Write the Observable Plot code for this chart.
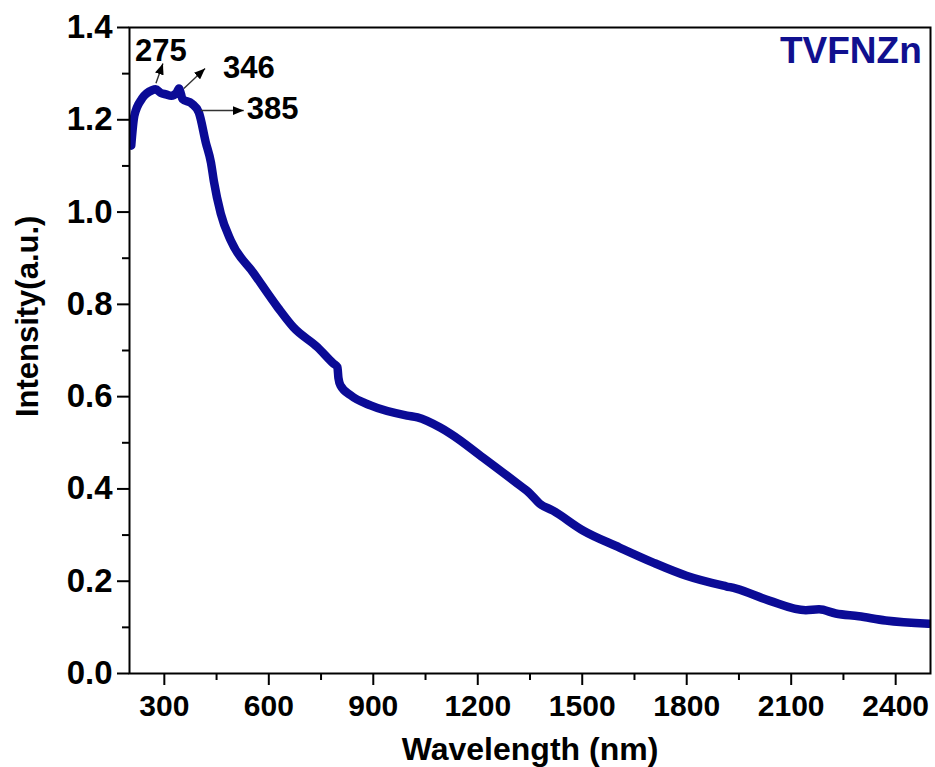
<!DOCTYPE html>
<html>
<head>
<meta charset="utf-8">
<script src="https://cdn.jsdelivr.net/npm/d3@7"></script>
<script src="https://cdn.jsdelivr.net/npm/@observablehq/plot@0.6"></script>
<style>
  html, body { margin: 0; padding: 0; background: white; }
  #chart svg { display: block; }
</style>
</head>
<body>
<div id="chart"></div>
<script>
// Wavelength (nm)
const wavelength = [205, 214, 236, 265, 275, 290, 305, 320, 335, 342, 348, 352, 379, 399, 419, 434, 442, 462, 491, 557, 626, 671, 740, 785, 797, 800, 806, 835, 892, 997, 1027, 1092, 1121, 1215, 1313, 1350, 1378, 1416, 1502, 1607, 1702, 1799, 1913, 1942, 2037, 2142, 2180, 2228, 2294, 2371, 2495];
// Intensity (a.u.)
const intensity = [1.144, 1.209, 1.246, 1.264, 1.266, 1.258, 1.255, 1.252, 1.258, 1.268, 1.255, 1.245, 1.235, 1.216, 1.151, 1.107, 1.068, 0.997, 0.938, 0.867, 0.793, 0.750, 0.707, 0.672, 0.664, 0.640, 0.624, 0.603, 0.581, 0.559, 0.555, 0.533, 0.520, 0.468, 0.412, 0.390, 0.368, 0.353, 0.310, 0.273, 0.241, 0.212, 0.189, 0.184, 0.158, 0.137, 0.139, 0.130, 0.124, 0.115, 0.108];

// Tick values
const xMajorTicks = [300, 600, 900, 1200, 1500, 1800, 2100, 2400];
const xMinorTicks = [450, 750, 1050, 1350, 1650, 1950, 2250];
const yMajorTicks = [0, 0.2, 0.4, 0.6, 0.8, 1.0, 1.2, 1.4];
const yMinorTicks = [0.1, 0.3, 0.5, 0.7, 0.9, 1.1, 1.3];

// Peak annotations
const peakLabels = ["275", "346", "385"];
const arrowX1 = [276, 356, 405];
const arrowY1 = [1.279, 1.268, 1.220];
const arrowX2 = [296, 417, 528];
const arrowY2 = [1.322, 1.311, 1.220];
const labelX = [290, 543, 611];
const labelY = [1.348, 1.313, 1.224];

const sampleName = ["TVFNZn"];
const sampleX = [2475];
const sampleY = [1.348];

const xTitle = ["Wavelength (nm)"];
const xTitleX = [1350];
const yTitle = ["Intensity(a.u.)"];
const yTitleY = [0.774];

const spectrum = wavelength.map((w, i) => ({w, v: intensity[i]}));
const arrows = peakLabels.map((t, i) => ({t, x1: arrowX1[i], y1: arrowY1[i], x2: arrowX2[i], y2: arrowY2[i], lx: labelX[i], ly: labelY[i]}));

const headMarker = (color, context) => {
  const m = d3.create("svg:marker")
    .attr("viewBox", "-11 -4.5 11 9")
    .attr("markerWidth", 11).attr("markerHeight", 9)
    .attr("markerUnits", "userSpaceOnUse")
    .attr("orient", "auto")
    .attr("refX", 0).attr("refY", 0);
  m.append("path").attr("d", "M-11,-4.5L0,0L-11,4.5Z").attr("fill", "black").attr("stroke", "none");
  return m.node();
};

const font = "'Liberation Sans', Arial, sans-serif";
const navy = "#0b0b96";

const chart = Plot.plot({
  width: 935,
  height: 767,
  marginTop: 27,
  marginBottom: 94,
  marginLeft: 129,
  marginRight: 5,
  style: {fontFamily: font, background: "white", color: "black"},
  x: {domain: [200, 2500]},
  y: {domain: [0, 1.4]},
  marks: [
    Plot.axisX(xMinorTicks, {tickSize: 7, tickFormat: () => "", label: null, strokeWidth: 2}),
    Plot.axisX(xMajorTicks, {tickSize: 12, tickPadding: 9, tickFormat: d => String(d), label: null, strokeWidth: 2, fontSize: 30, fontWeight: "bold", fill: "black"}),
    Plot.axisY(yMinorTicks, {tickSize: 7, tickFormat: () => "", label: null, strokeWidth: 2}),
    Plot.axisY(yMajorTicks, {tickSize: 12, tickPadding: 5, tickFormat: d3.format(".1f"), label: null, strokeWidth: 2, fontSize: 33, fontWeight: "bold", fill: "black"}),
    Plot.line(spectrum, {x: "w", y: "v", stroke: navy, strokeWidth: 8.5, curve: "monotone-x", strokeLinejoin: "round", strokeLinecap: "round", clip: true}),
    Plot.link(arrows, {x1: "x1", y1: "y1", x2: "x2", y2: "y2", stroke: "#333", strokeWidth: 1.4, markerEnd: headMarker}),
    Plot.text(arrows, {x: "lx", y: "ly", text: "t", fontSize: 31, fontWeight: "bold", fill: "black", textAnchor: "middle"}),
    Plot.text(sampleName, {x: sampleX, y: sampleY, text: d => d, fontSize: 37, fontWeight: "bold", fill: "#10108f", textAnchor: "end"}),
    Plot.text(xTitle, {x: xTitleX, frameAnchor: "bottom", text: d => d, dy: 86, fontSize: 32, fontWeight: "bold", fill: "black", textAnchor: "middle"}),
    Plot.text(yTitle, {y: yTitleY, frameAnchor: "left", text: d => d, dx: -101, rotate: -90, fontSize: 31, fontWeight: "bold", fill: "black", textAnchor: "middle"}),
    Plot.frame({stroke: "black", strokeWidth: 2})
  ]
});
document.getElementById("chart").appendChild(chart);
</script>
</body>
</html>
